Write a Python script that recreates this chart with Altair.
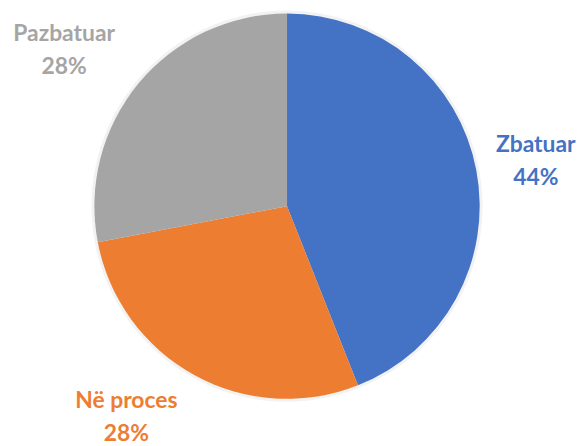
import altair as alt
import pandas as pd

categories = ["Zbatuar", "Në proces", "Pazbatuar"]
values = [44, 28, 28]
colors = ["#4472C4", "#ED7D31", "#A5A5A5"]

df = pd.DataFrame({
    "category": categories,
    "value": values,
    "order": list(range(len(categories))),
    "label": [f"{c}\n{v}%" for c, v in zip(categories, values)],
})

cx, cy = 281, 198
R = 194
total = sum(values)

color_enc = alt.Color("category:N",
                      scale=alt.Scale(domain=categories, range=colors),
                      legend=None)

base = alt.Chart(df).encode(x=alt.value(cx), y=alt.value(cy))

arc_theta = alt.Theta("value:Q", stack=True, scale=alt.Scale(domain=[0, total]))

shadow = base.mark_arc(radius=R + 3, color="#000000", opacity=0.05).encode(
    theta=arc_theta, order=alt.Order("order:Q"))

pie = base.mark_arc(radius=R).encode(
    theta=arc_theta, order=alt.Order("order:Q"), color=color_enc)

adjust = {"Zbatuar": (0, -14), "Në proces": (-39, -27), "Pazbatuar": (-28, -11)}

text_layers = []
for c in categories:
    dx, dy = adjust[c]
    t = base.transform_window(
        cum="sum(value)", sort=[alt.SortField("order")], frame=[None, 0]
    ).transform_calculate(
        mid="datum.cum - datum.value / 2"
    ).transform_filter(alt.datum.category == c).mark_text(
        radius=255, font="Lato", fontWeight="bold", fontSize=23,
        lineBreak="\n", lineHeight=33, align="center", baseline="middle",
        dx=dx, dy=dy,
    ).encode(
        theta=alt.Theta("mid:Q", stack=None, scale=alt.Scale(domain=[0, total])),
        text="label:N",
        color=color_enc,
    )
    text_layers.append(t)

chart = alt.layer(shadow, pie, *text_layers).properties(
    width=568, height=430, padding=0, background="white"
).configure_view(stroke=None)

chart.save("out.html", embed_options={"renderer": "svg", "actions": False})
